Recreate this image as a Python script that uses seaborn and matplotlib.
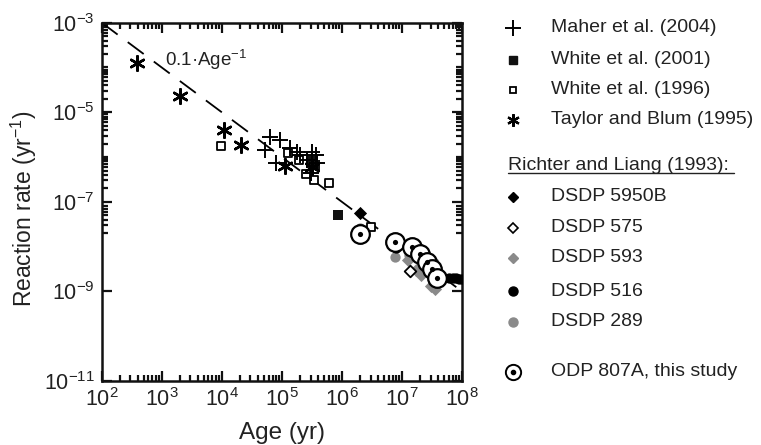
import numpy as np
import pandas as pd
import matplotlib
matplotlib.use("Agg")
import matplotlib.pyplot as plt
import seaborn as sns
from matplotlib.ticker import FixedLocator, NullFormatter, FuncFormatter, LogLocator
from matplotlib.lines import Line2D

sns.set_theme(style="ticks")
plt.rcParams["font.family"] = ["Liberation Sans", "DejaVu Sans"]
plt.rcParams["mathtext.default"] = "regular"
plt.rcParams["axes.unicode_minus"] = False

# ---------------- data ----------------
maher_age = [6.4e4, 9.3e4, 5.3e4, 8.0e4, 1.37e5, 1.78e5, 2.0e5, 3.2e5, 3.7e5, 3.8e5, 2.6e5, 3.0e5]
maher_rate = [2.8e-6, 2.4e-6, 1.45e-6, 7.2e-7, 1.56e-6, 1.3e-6, 1.1e-6, 1.3e-6, 1.1e-6, 7.2e-7, 8.5e-7, 4.3e-7]

white01_age = [8.7e5, 3.0e5, 3.6e5, 3.3e5]
white01_rate = [5.0e-8, 7.2e-7, 6.6e-7, 8.0e-7]

white96_age = [9.8e3, 1.29e5, 1.95e5, 2.5e5, 3.4e5, 6.0e5, 3.1e6]
white96_rate = [1.8e-6, 1.25e-6, 8.5e-7, 4.1e-7, 3.0e-7, 2.6e-7, 2.7e-8]

taylor_age = [3.8e2, 2.0e3, 1.1e4, 2.1e4, 1.13e5, 3.2e5]
taylor_rate = [1.24e-4, 2.3e-5, 4.1e-6, 1.9e-6, 6.3e-7, 6.0e-7]

d5950b_age = [2.0e6]
d5950b_rate = [5.5e-8]

d575_age = [1.38e7]
d575_rate = [2.8e-9]

d593_age = [2.0e6, 1.25e7, 1.7e7, 2.1e7, 3.0e7, 3.5e7, 3.2e7]
d593_rate = [1.6e-8, 5.0e-9, 3.0e-9, 2.3e-9, 1.3e-9, 1.15e-9, 5.0e-9]

d516_age = [7.9e6, 1.45e7, 4.3e7, 5.0e7, 6.0e7, 7.0e7, 8.0e7, 9.0e7, 1.0e8]
d516_rate = [9.5e-9, 7.5e-9, 2.1e-9, 2.0e-9, 2.0e-9, 1.95e-9, 1.95e-9, 1.9e-9, 1.9e-9]

d289_age = [2.0e6, 7.7e6, 1.3e7]
d289_rate = [2.6e-8, 5.8e-9, 6.5e-9]

odp_age = [2.0e6, 7.7e6, 1.47e7, 2.0e7, 2.6e7, 3.2e7, 3.9e7]
odp_rate = [1.95e-8, 1.3e-8, 1.0e-8, 6.7e-9, 4.6e-9, 3.1e-9, 1.95e-9]

fit_age = [1e2, 1e8]
fit_rate = [1e-3, 1e-9]

x_major = [1e2, 1e3, 1e4, 1e5, 1e6, 1e7, 1e8]
y_major = [1e-11, 1e-9, 1e-7, 1e-5, 1e-3]

legend_labels = ["Maher et al. (2004)", "White et al. (2001)", "White et al. (1996)",
                 "Taylor and Blum (1995)", "Richter and Liang (1993):", "DSDP 5950B",
                 "DSDP 575", "DSDP 593", "DSDP 516", "DSDP 289", "ODP 807A, this study"]

# ---------------- figure ----------------
W, H = 761, 445
fig = plt.figure(figsize=(W / 100, H / 100), dpi=100)
fig.patch.set_facecolor("white")
ax = fig.add_axes([101.7 / W, 1 - 381 / H, (462 - 101.7) / W, (381 - 22.7) / H])
ax.set_facecolor("white")
ax.set_xscale("log")
ax.set_yscale("log")

GREY = "#8a8a8a"

# fit line
sns.lineplot(x=fit_age, y=fit_rate, ax=ax, color="black", linewidth=1.3, zorder=2)
ax.lines[-1].set_dashes([11, 7])

def sc(x, y, **kw):
    sns.scatterplot(x=x, y=y, ax=ax, legend=False, **kw)

sc(d593_age, d593_rate, marker="D", s=45, color=GREY, edgecolor=GREY, linewidth=0, zorder=3)
sc(d289_age, d289_rate, marker="o", s=55, color=GREY, edgecolor=GREY, linewidth=0, zorder=3)
sc(d516_age, d516_rate, marker="o", s=55, color="black", edgecolor="black", linewidth=0, zorder=3)
sc(d575_age, d575_rate, marker="D", s=35, facecolor="white", edgecolor="black", linewidth=1.3, zorder=4)
sc(d5950b_age, d5950b_rate, marker="D", s=45, color="black", edgecolor="black", linewidth=0, zorder=4)
sc(white01_age, white01_rate, marker="s", s=50, color="#111111", edgecolor="#111111", linewidth=0, zorder=4)
sc(white96_age, white96_rate, marker="s", s=40, facecolor="white", edgecolor="black", linewidth=1.3, zorder=4)
sc(maher_age, maher_rate, marker="+", s=140, color="black", linewidth=1.4, zorder=5)
sc(taylor_age, taylor_rate, marker=(6, 2, 0), s=110, color="black", linewidth=1.8, zorder=5)
sc(odp_age, odp_rate, marker="o", s=180, facecolor="white", edgecolor="black", linewidth=1.6, zorder=6)
sc(odp_age, odp_rate, marker="o", s=14, color="black", edgecolor="black", linewidth=0, zorder=7)

ax.set_xlim(1e2, 1e8)
ax.set_ylim(1e-11, 1e-3)

# ticks
ax.xaxis.set_major_locator(FixedLocator(x_major))
ax.xaxis.set_minor_locator(LogLocator(base=10, subs=np.arange(2, 10), numticks=20))
y_minor = [m * 10.0 ** k for k in range(-11, -3) for m in range(1, 10)
           if not any(np.isclose(m * 10.0 ** k, v) for v in y_major)]
ax.yaxis.set_major_locator(FixedLocator(y_major))
ax.yaxis.set_minor_locator(FixedLocator(y_minor))
ax.xaxis.set_minor_formatter(NullFormatter())
ax.yaxis.set_minor_formatter(NullFormatter())
fmt = FuncFormatter(lambda v, p: r"$10^{%d}$" % int(round(np.log10(v))))
ax.xaxis.set_major_formatter(fmt)
ax.yaxis.set_major_formatter(fmt)
ax.tick_params(which="both", direction="in", top=True, right=True, colors="#111111",
               labelcolor="#222222")
ax.tick_params(which="major", length=7, width=1.6, labelsize=15.5, pad=5)
ax.tick_params(which="minor", length=4, width=1.6)
for s in ax.spines.values():
    s.set_linewidth(1.8)
    s.set_color("#111111")

ax.set_xlabel("Age (yr)", fontsize=17.5, color="#222222", labelpad=8)
ax.set_ylabel("Reaction rate (yr$^{-1}$)", fontsize=16.5, color="#222222", labelpad=2)
ax.yaxis.set_label_coords(-0.175, 0.48)

ax.text(10 ** 3.05, 10 ** -3.83, "0.1·Age$^{-1}$", fontsize=13.5, color="#222222",
        ha="left", va="center")

# ---------------- legend (manual) ----------------
def fx(px):
    return px / W

def fy(py):
    return 1 - py / H

rows_y = [28, 60, 90, 120, 165, 197, 228, 258, 291, 322, 372]
mx = 513
tx = 551

def lm(py, **kw):
    fig.add_artist(Line2D([fx(mx)], [fy(py)], transform=fig.transFigure, linestyle="none", **kw))

lm(rows_y[0], marker="+", markersize=11, color="black", markeredgewidth=1.4)
lm(rows_y[1], marker="s", markersize=6, color="#111111")
lm(rows_y[2], marker="s", markersize=5, markerfacecolor="white", markeredgecolor="black", markeredgewidth=1.3)
lm(rows_y[3], marker=(6, 2, 0), markersize=9, color="black", markeredgewidth=1.6)
lm(rows_y[5], marker="D", markersize=5.5, color="black")
lm(rows_y[6], marker="D", markersize=5.5, markerfacecolor="white", markeredgecolor="black", markeredgewidth=1.2)
lm(rows_y[7], marker="D", markersize=5.5, color=GREY)
lm(rows_y[8], marker="o", markersize=6.5, color="black")
lm(rows_y[9], marker="o", markersize=6.5, color=GREY)
lm(rows_y[10], marker="o", markersize=11, markerfacecolor="white", markeredgecolor="black", markeredgewidth=1.4)
lm(rows_y[10], marker="o", markersize=3, color="black")

for i, (lab, py) in enumerate(zip(legend_labels, rows_y)):
    x0 = 508 if i == 4 else tx
    fig.text(fx(x0), fy(py), lab, fontsize=14, color="#222222", ha="left", va="center")

fig.add_artist(Line2D([fx(508), fx(734)], [fy(173), fy(173)], transform=fig.transFigure,
                      color="#222222", linewidth=1.0))

fig.savefig("out.png", dpi=100, facecolor="white")
